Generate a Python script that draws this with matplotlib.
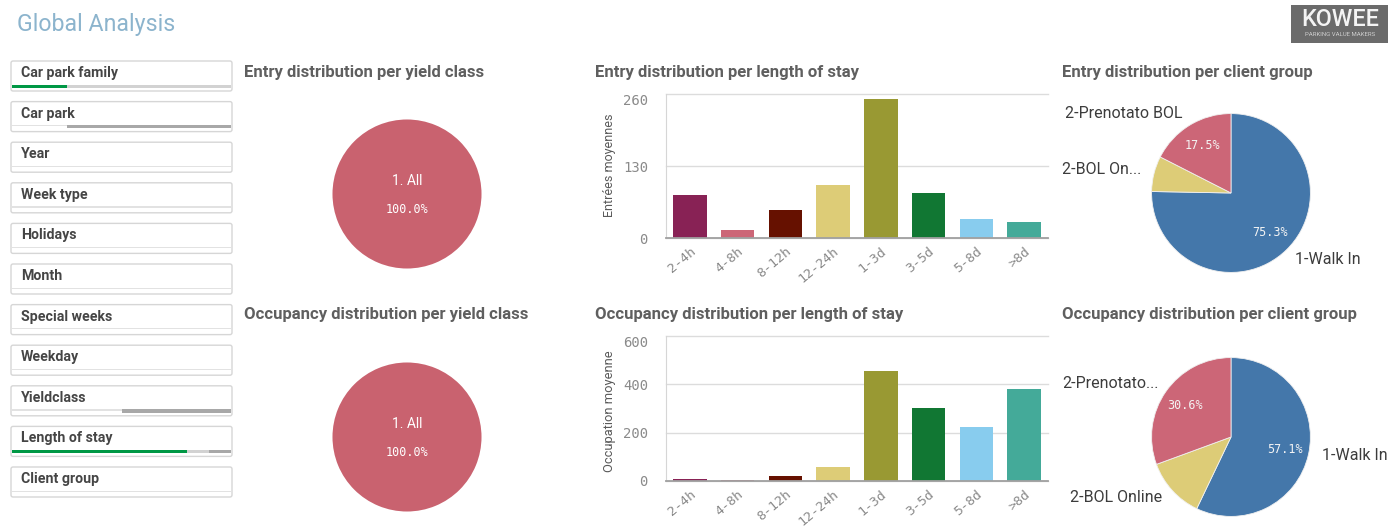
import numpy as np
import matplotlib
matplotlib.use('Agg')
import matplotlib.pyplot as plt
from matplotlib.patches import Rectangle, FancyBboxPatch

W, H, DPI = 1395, 529, 100

# ---------------- data ----------------
stay_classes = ['2-4h', '4-8h', '8-12h', '12-24h', '1-3d', '3-5d', '5-8d', '>8d']
entries_per_stay = [77, 14, 50, 95, 251, 82, 34, 28]
occupancy_per_stay = [8, 3, 22, 58, 457, 303, 225, 382]
entry_yticks = [0, 130, 260]
occ_yticks = [0, 200, 400, 600]

yield_classes = ['1. All']
entry_yield_share = [100.0]
occ_yield_share = [100.0]

client_groups = ['1-Walk In', '2-BOL Online', '2-Prenotato BOL']
entry_client_share = [75.3, 7.2, 17.5]
occ_client_share = [57.1, 12.3, 30.6]
entry_client_labels = ['1-Walk In', '2-BOL On...', '2-Prenotato BOL']
occ_client_labels = ['1-Walk In', '2-BOL Online', '2-Prenotato...']

filter_names = ['Car park family', 'Car park', 'Year', 'Week type', 'Holidays', 'Month',
                'Special weeks', 'Weekday', 'Yieldclass', 'Length of stay', 'Client group']
# selection state bars (fraction start, fraction end, state)
filter_states = {
    'Car park family': [(0.0, 0.25, 'selected'), (0.25, 1.0, 'alternative')],
    'Car park': [(0.0, 0.25, 'none'), (0.25, 1.0, 'excluded')],
    'Yieldclass': [(0.0, 0.5, 'none'), (0.5, 1.0, 'excluded')],
    'Length of stay': [(0.0, 0.80, 'selected'), (0.80, 0.90, 'alternative'), (0.90, 1.0, 'excluded')],
}

# ---------------- styles ----------------
stay_colors = ['#882255', '#cc6677', '#661100', '#ddcc77', '#999933', '#117733', '#88ccee', '#44aa99']
client_colors = ['#4477aa', '#ddcc77', '#cc6677']
yield_colors = ['#c9626f']
state_colors = {'selected': '#009845', 'alternative': '#d2d2d2', 'excluded': '#a8a8a8', 'none': '#e2e2e2'}
SANS = 'Roboto'
MONO = 'DejaVu Sans Mono'

fig = plt.figure(figsize=(W / DPI, H / DPI), dpi=DPI, facecolor='white')
bg = fig.add_axes([0, 0, 1, 1], zorder=0)
bg.set_xlim(0, W)
bg.set_ylim(H, 0)
bg.axis('off')
renderer = fig.canvas.get_renderer()


def px_axes(x0, y0, x1, y1):
    return fig.add_axes([x0 / W, 1 - y1 / H, (x1 - x0) / W, (y1 - y0) / H], zorder=2)


def fit(t, target, vertical=False):
    bb = t.get_window_extent(renderer)
    size = bb.height if vertical else bb.width
    t.set_fontsize(t.get_fontsize() * target / size)
    return t.get_fontsize()


# ---------------- header ----------------
t = bg.text(17, 25, 'Global Analysis', fontsize=14, family=SANS, color='#8cb4cd',
            ha='left', va='center')
fit(t, 159)

bg.add_patch(Rectangle((1291, 5), 97, 38, facecolor='#6b6b6b', edgecolor='none'))
t = bg.text(1340, 20, 'KOWEE', fontsize=12, family=SANS, color='#f4f4f4', ha='center',
            va='center', fontweight='medium')
fit(t, 78)
t = bg.text(1340, 35, 'PARKING VALUE MAKERS', fontsize=4, family=SANS, color='#d0d0d0',
            ha='center', va='center')
fit(t, 70)

# ---------------- filter panel ----------------
box_x0, box_w, box_h, pitch, top0 = 11, 221, 30, 40.6, 61
probe = bg.text(0, -50, 'Car park family', fontsize=10, family=SANS, fontweight='bold')
fsize = fit(probe, 97)
probe.remove()
for i, name in enumerate(filter_names):
    top = top0 + i * pitch
    bg.add_patch(FancyBboxPatch((box_x0, top), box_w, box_h,
                                boxstyle='round,pad=0,rounding_size=2',
                                facecolor='white', edgecolor='#d6d6d6', lw=1.0))
    bg.text(21, top + 12, name, fontsize=fsize, family=SANS, fontweight='bold',
            color='#454545', ha='left', va='center')
    segs = filter_states.get(name, [(0.0, 1.0, 'none')])
    for s0, s1, st in segs:
        hgt = 1.2 if st == 'none' else 3.2
        bg.add_patch(Rectangle((box_x0 + 1 + s0 * (box_w - 2), top + box_h - 6.5),
                               (s1 - s0) * (box_w - 2), hgt,
                               facecolor=state_colors[st], edgecolor='none'))

# ---------------- titles ----------------
titles = [
    (244, 72, 'Entry distribution per yield class'),
    (595, 72, 'Entry distribution per length of stay'),
    (1062, 72, 'Entry distribution per client group'),
    (244, 315, 'Occupancy distribution per yield class'),
    (595, 315, 'Occupancy distribution per length of stay'),
    (1062, 315, 'Occupancy distribution per client group'),
]
probe = bg.text(0, -50, 'Occupancy distribution per length of stay', fontsize=10,
                family=SANS, fontweight='bold')
tsize = fit(probe, 308)
probe.remove()
for x, y, s in titles:
    bg.text(x, y, s, fontsize=tsize, family=SANS, fontweight='bold', color='#5f5f5f',
            ha='left', va='center')


# ---------------- yield class pies ----------------
def yield_pie(cx, cy, r, shares):
    ax = px_axes(cx - r, cy - r, cx + r, cy + r)
    ax.pie(shares, colors=yield_colors, startangle=90, counterclock=False,
           autopct='%.1f%%', pctdistance=0.21,
           textprops=dict(color='white', family=MONO, fontsize=8.5),
           wedgeprops=dict(edgecolor='none'))
    ax.text(0, 0.17, yield_classes[0], color='white', family=SANS, fontsize=10,
            ha='center', va='center')
    ax.set_xlim(-1.02, 1.02)
    ax.set_ylim(-1.02, 1.02)
    ax.axis('off')


yield_pie(407, 194, 76, entry_yield_share)
yield_pie(407, 437, 76, occ_yield_share)


# ---------------- length of stay bars ----------------
def bar_chart(box, values, yticks, ylabel, ylab_xy):
    ax = px_axes(*box)
    x = np.arange(len(stay_classes))
    ax.bar(x, values, width=0.7, color=stay_colors, zorder=2)
    ax.set_xlim(-0.5, len(stay_classes) - 0.5)
    ax.set_ylim(yticks[0], yticks[-1])
    ax.set_yticks(yticks)
    ax.set_yticklabels([str(v) for v in yticks])
    ax.set_xticks(x)
    ax.set_xticklabels(stay_classes, rotation=40, ha='right', rotation_mode='anchor')
    ax.grid(axis='y', color='#dcdcdc', lw=1.0)
    ax.set_axisbelow(True)
    for gl in ax.get_ygridlines():
        gl.set_clip_on(False)
    for s in ['top', 'right']:
        ax.spines[s].set_visible(False)
    ax.spines['left'].set_color('#d6d6d6')
    ax.spines['bottom'].set_color('#a0a0a0')
    ax.spines['bottom'].set_linewidth(1.3)
    ax.spines['bottom'].set_zorder(3)
    ax.tick_params(length=0, labelcolor='#8a8a8a', labelfontfamily=MONO)
    ax.tick_params(axis='y', pad=13, labelsize=10)
    ax.tick_params(axis='x', pad=5, labelsize=9.5)
    ax.patch.set_alpha(0)
    ax.yaxis.get_major_ticks()[-1].label1.set_va('top')
    t = bg.text(ylab_xy[0], ylab_xy[1], ylabel, rotation=90, family=SANS, fontsize=9,
                color='#5a5a5a', ha='center', va='center')
    return ax, t


_, t1 = bar_chart((666, 94, 1048, 238), entries_per_stay, entry_yticks,
                  'Entrées moyennes', (610, 165))
fit(t1, 104, vertical=True)
_, t2 = bar_chart((666, 336, 1048, 481), occupancy_per_stay, occ_yticks,
                  'Occupation moyenne', (610, 411))
fit(t2, 122, vertical=True)


# ---------------- client group pies ----------------
def client_pie(cx, cy, r, shares, labels, label_pos):
    ax = px_axes(cx - r, cy - r, cx + r, cy + r)
    ax.pie(shares, colors=client_colors, startangle=90, counterclock=False,
           autopct=lambda p: ('%.1f%%' % p) if p > 15 else '', pctdistance=0.7,
           textprops=dict(color='#f4f4f4', family=MONO, fontsize=8.5),
           wedgeprops=dict(edgecolor='#f0f0f0', lw=0.6))
    ax.set_xlim(-1.02, 1.02)
    ax.set_ylim(-1.02, 1.02)
    ax.axis('off')
    for lab, (lx, ly) in zip(labels, label_pos):
        bg.text(lx, ly, lab, family=SANS, fontsize=lsize, color='#3c3c3c',
                ha='left', va='center')


probe = bg.text(0, -50, '2-Prenotato BOL', fontsize=10, family=SANS)
lsize = fit(probe, 117)
probe.remove()

client_pie(1231, 193, 81, entry_client_share, entry_client_labels,
           [(1295, 259), (1062, 170), (1065, 113)])
client_pie(1231, 437, 81, occ_client_share, occ_client_labels,
           [(1322, 456), (1070, 497), (1062, 383)])

fig.savefig('out.png', dpi=DPI, facecolor='white')
